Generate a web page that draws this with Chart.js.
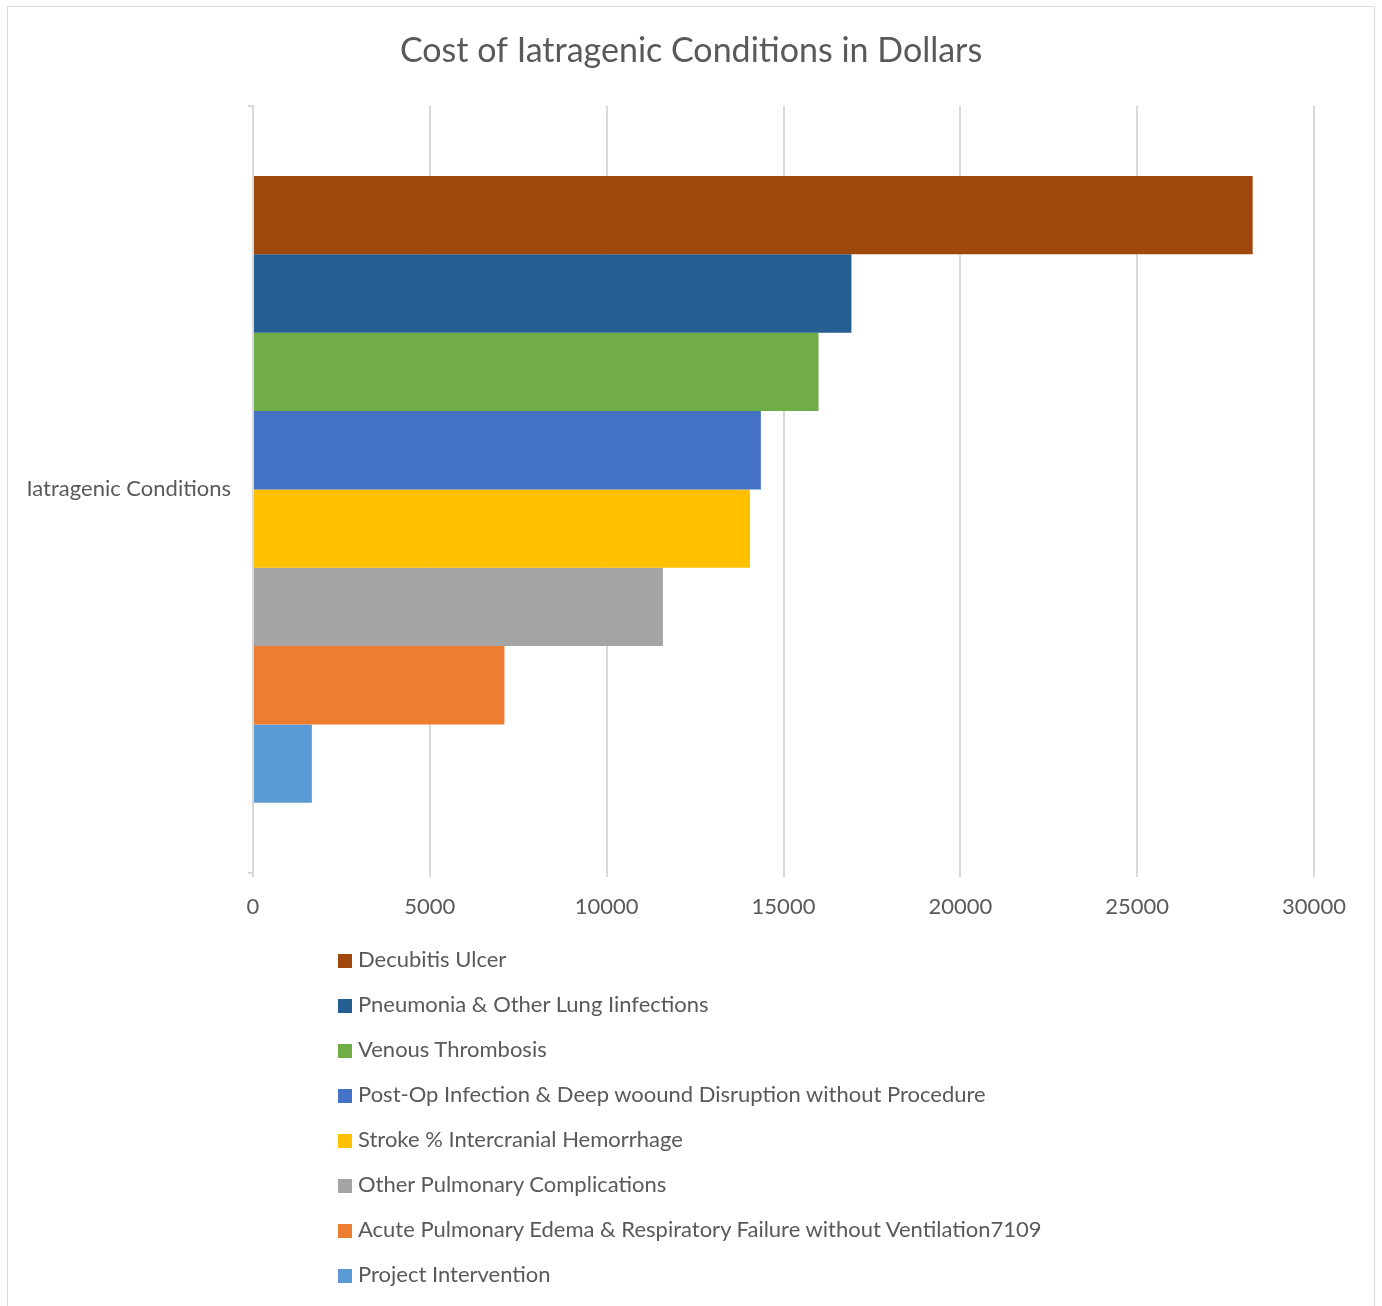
<!DOCTYPE html>
<html>
<head>
<meta charset="utf-8">
<script src="https://cdn.jsdelivr.net/npm/chart.js@4/dist/chart.umd.min.js"></script>
<style>
  body { margin: 0; background: #fff; font-family: Lato, "Open Sans", sans-serif; }
  #frame { position: absolute; left: 7px; top: 6px; width: 1368px; height: 1310px; border: 1px solid #d9d9d9; box-sizing: border-box; }
  #wrap { position: absolute; left: 8px; top: 8px; width: 1366px; height: 930px; }
  #legend { position: absolute; left: 338px; top: 936px; }
  .item { height: 45px; line-height: 45px; font-size: 22px; color: #595959; white-space: nowrap; }
  .box { display: inline-block; width: 14px; height: 14px; margin-right: 6px; vertical-align: -1px; }
</style>
</head>
<body>
<div id="frame"></div>
<div id="wrap"><canvas id="chart"></canvas></div>
<div id="legend"></div>
<script>
// data
const categories = ['Iatragenic Conditions'];
const seriesNames = [
    'Decubitis Ulcer',
    'Pneumonia & Other Lung Iinfections',
    'Venous Thrombosis',
    'Post-Op Infection & Deep woound Disruption without Procedure',
    'Stroke % Intercranial Hemorrhage',
    'Other Pulmonary Complications',
    'Acute Pulmonary Edema & Respiratory Failure without Ventilation7109',
    'Project Intervention'
];
const seriesValues = [28265, 16920, 15990, 14360, 14050, 11590, 7109, 1665];
const seriesColors = ['#9E480E', '#255E91', '#70AD47', '#4472C4', '#FFC000', '#A5A5A5', '#ED7D31', '#5B9BD5'];
const xTicks = [0, 5000, 10000, 15000, 20000, 25000, 30000];

const textColor = '#595959';
const gridColor = '#d9d9d9';

const datasets = seriesNames.map((name, i) => ({
    label: name,
    data: [seriesValues[i]],
    backgroundColor: seriesColors[i],
    borderWidth: 0,
    categoryPercentage: 0.817,
    barPercentage: 1.0
}));

const chart = new Chart(document.getElementById('chart'), {
    type: 'bar',
    data: { labels: categories, datasets: datasets },
    options: {
        indexAxis: 'y',
        responsive: true,
        maintainAspectRatio: false,
        animation: false,
        layout: { padding: 0 },
        plugins: {
            legend: { display: false },
            tooltip: { enabled: false },
            title: {
                display: true,
                text: 'Cost of Iatragenic Conditions in Dollars',
                color: textColor,
                font: { family: 'Lato', size: 34, weight: 'normal' },
                padding: { top: 23, bottom: 34 }
            }
        },
        scales: {
            x: {
                min: 0,
                max: 30000,
                afterBuildTicks: (scale) => {
                    scale.ticks = xTicks.map(v => ({ value: v }));
                },
                afterFit: (scale) => { scale.height = 65; },
                grid: { color: gridColor, lineWidth: 2, tickLength: 4 },
                border: { display: false },
                ticks: {
                    color: textColor,
                    padding: 17,
                    font: { family: 'Lato', size: 22 },
                    callback: (v) => String(v)
                }
            },
            y: {
                afterFit: (scale) => { scale.width = 245; },
                grid: { display: true, drawOnChartArea: false, offset: true, color: gridColor, lineWidth: 2, tickLength: 5 },
                border: { display: true, color: gridColor, width: 2 },
                ticks: {
                    color: textColor,
                    padding: 17,
                    font: { family: 'Lato', size: 22 }
                }
            },
            // empty right-hand spacer so the title stays centred on the whole canvas
            spacer: {
                type: 'linear',
                axis: 'y',
                position: 'right',
                afterFit: (scale) => { scale.width = 60; },
                grid: { display: false },
                border: { display: false },
                ticks: { display: false }
            }
        }
    }
});

// vertical legend under the chart, built from the datasets
const legendEl = document.getElementById('legend');
chart.data.datasets.forEach(ds => {
    const div = document.createElement('div');
    div.className = 'item';
    div.innerHTML = `<span class="box" style="background:${ds.backgroundColor}"></span>`;
    div.appendChild(document.createTextNode(ds.label));
    legendEl.appendChild(div);
});
</script>
</body>
</html>
